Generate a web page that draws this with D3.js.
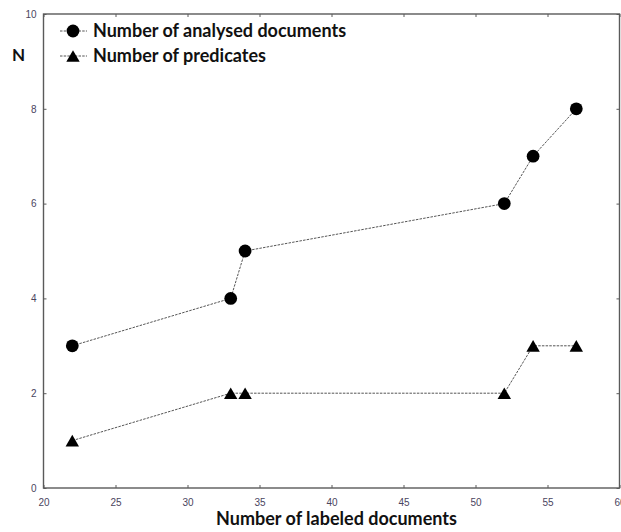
<!DOCTYPE html>
<html>
<head>
<meta charset="utf-8">
<script src="https://cdn.jsdelivr.net/npm/d3@7"></script>
<style>
  html, body { margin: 0; padding: 0; background: #fff; }
  svg { display: block; }
</style>
</head>
<body>
<svg id="chart" width="621" height="532"></svg>
<script>
// Labeled documents (x) and the two measured counts
const labeledDocs = [22, 33, 34, 52, 54, 57];
const analysedDocs = [3, 4, 5, 6, 7, 8];
const predicates = [1, 2, 2, 2, 3, 3];
const xTicks = [20, 25, 30, 35, 40, 45, 50, 55, 60];
const yTicks = [0, 2, 4, 6, 8, 10];
const seriesNames = ["Number of analysed documents", "Number of predicates"];

(function () {
const svg = d3.select("#chart");
const plotLeft = 43.5, plotRight = 619.5, plotTop = 14, plotBottom = 488;

const x = d3.scaleLinear().domain([20, 60]).range([plotLeft, plotRight]);
const y = d3.scaleLinear().domain([0, 10]).range([plotBottom, plotTop]);

const axisColor = "#5a5a5a";
const tickFont = "Liberation Sans";
const titleFont = "Lato";

// Frame
svg.append("rect")
  .attr("x", plotLeft).attr("y", plotTop)
  .attr("width", plotRight - plotLeft).attr("height", plotBottom - plotTop)
  .attr("fill", "none").attr("stroke", axisColor).attr("stroke-width", 1.4);

// Bottom axis
svg.append("g").attr("transform", `translate(0,${plotBottom})`)
  .call(d3.axisBottom(x).tickValues(xTicks).tickSizeInner(-3).tickSizeOuter(0).tickPadding(11));
// Left axis
svg.append("g").attr("transform", `translate(${plotLeft},0)`)
  .call(d3.axisLeft(y).tickValues(yTicks).tickSizeInner(-3).tickSizeOuter(0).tickPadding(7));
// Top and right inward ticks
svg.append("g").attr("transform", `translate(0,${plotTop})`)
  .call(d3.axisTop(x).tickValues(xTicks).tickSizeInner(-3).tickSizeOuter(0).tickFormat(""));
svg.append("g").attr("transform", `translate(${plotRight},0)`)
  .call(d3.axisRight(y).tickValues(yTicks).tickSizeInner(-3).tickSizeOuter(0).tickFormat(""));

svg.selectAll(".domain").remove();
svg.selectAll(".tick line").attr("stroke", axisColor);
svg.selectAll(".tick text")
  .attr("font-family", tickFont).attr("font-size", 10).attr("fill", "#4a4560");

// Series
const lineGen = d3.line().x(d => x(d[0])).y(d => y(d[1]));
const dash = "2.5,1.2";
const pts1 = labeledDocs.map((v, i) => [v, analysedDocs[i]]);
const pts2 = labeledDocs.map((v, i) => [v, predicates[i]]);

[pts1, pts2].forEach(pts => {
  svg.append("path").datum(pts).attr("d", lineGen)
    .attr("fill", "none").attr("stroke", "#555").attr("stroke-width", 1)
    .attr("stroke-dasharray", dash);
});

const circleSym = d3.symbol().type(d3.symbolCircle).size(128);
const triSym = d3.symbol().type(d3.symbolTriangle).size(78);
const triShift = 2;

svg.append("g").selectAll("path").data(pts1).join("path")
  .attr("d", circleSym)
  .attr("transform", d => `translate(${x(d[0])},${y(d[1])})`)
  .attr("fill", "#000");
svg.append("g").selectAll("path").data(pts2).join("path")
  .attr("d", triSym)
  .attr("transform", d => `translate(${x(d[0])},${y(d[1]) + triShift})`)
  .attr("fill", "#000");

// Legend
const legend = svg.append("g");
const legendRows = [
  { name: seriesNames[0], sym: circleSym, yy: 31, dy: 0 },
  { name: seriesNames[1], sym: triSym, yy: 56, dy: triShift }
];
legendRows.forEach(r => {
  legend.append("line").attr("x1", 60).attr("x2", 87).attr("y1", r.yy).attr("y2", r.yy)
    .attr("stroke", "#555").attr("stroke-dasharray", dash);
  legend.append("path").attr("d", r.sym).attr("transform", `translate(73,${r.yy + r.dy})`).attr("fill", "#000");
  legend.append("text").attr("x", 93).attr("y", r.yy + 6)
    .attr("font-family", titleFont).attr("font-weight", "bold").attr("font-size", 18)
    .attr("fill", "#111").text(r.name);
});

// Axis titles
svg.append("text").attr("x", 12).attr("y", 61)
  .attr("font-family", titleFont).attr("font-weight", "bold").attr("font-size", 17)
  .attr("fill", "#111").text("N");
svg.append("text").attr("x", 336.5).attr("y", 525).attr("text-anchor", "middle")
  .attr("font-family", titleFont).attr("font-weight", "bold").attr("font-size", 18)
  .attr("fill", "#111").text("Number of labeled documents");
})();
</script>
</body>
</html>
